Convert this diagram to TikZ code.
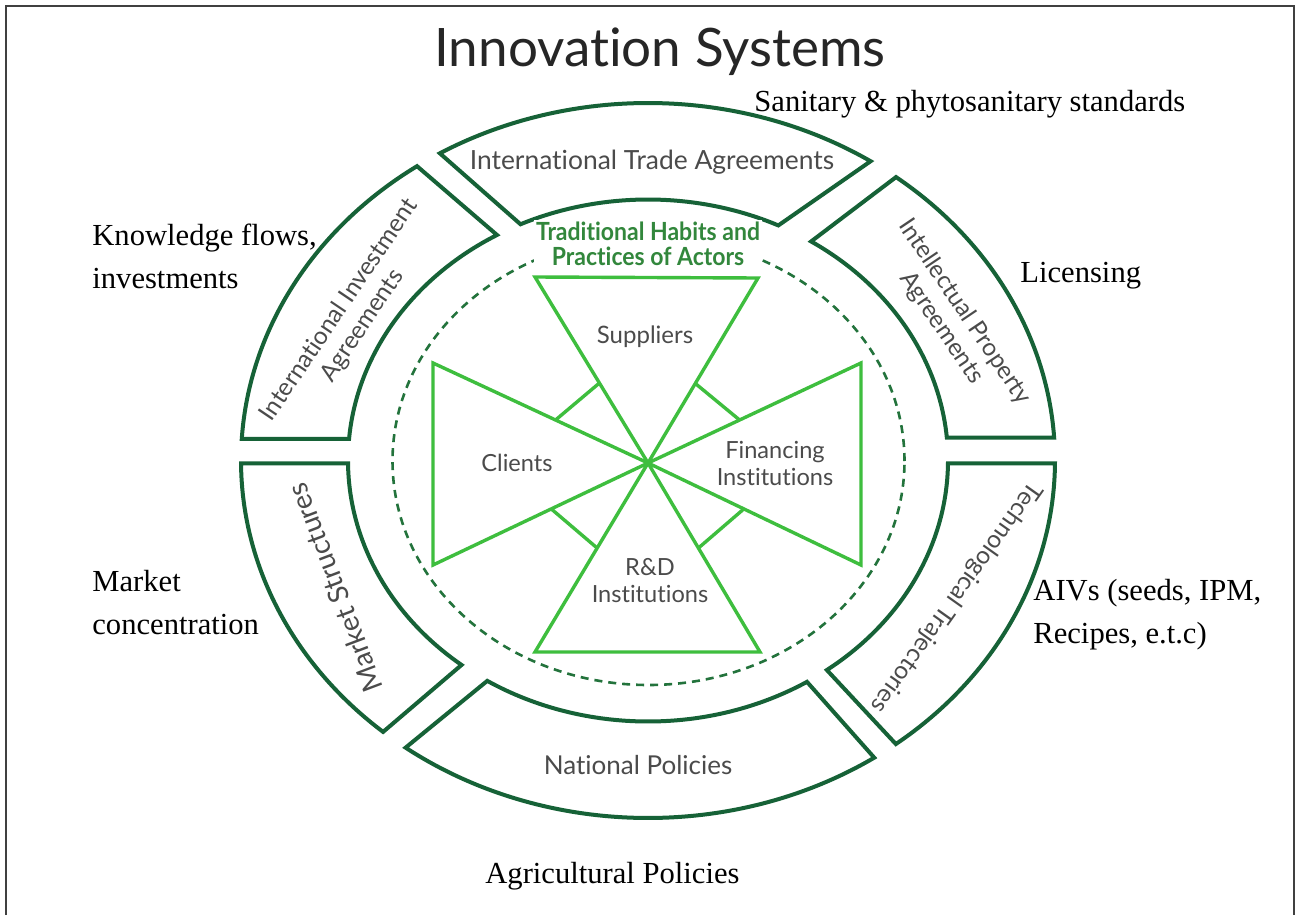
\documentclass[tikz,border=0pt]{standalone}
\usepackage{fontspec}
\usepackage{graphicx}
\setmainfont{Liberation Serif}
\newfontfamily\diagfont[Ligatures=NoCommon]{Lato}
\usetikzlibrary{calc}
\definecolor{segc}{RGB}{22,98,55}
\definecolor{starc}{RGB}{62,190,62}
\definecolor{dashc}{RGB}{35,115,60}
\definecolor{tradc}{RGB}{50,135,60}
\definecolor{labc}{RGB}{75,75,75}
\begin{document}
\begin{tikzpicture}[x=0.5pt,y=0.5pt,
  seg/.style={draw=segc, line width=2pt, line join=miter, fill=white},
  star/.style={draw=starc, line width=1.7pt, line join=miter},
  lab/.style={font=\diagfont\fontsize{11.8}{13.5}\selectfont, text=labc, align=center, inner sep=0pt},
  note/.style={font=\fontsize{15.3}{21.5}\selectfont, text=black, align=left, inner sep=0pt},
]
\useasboundingbox (0,0) rectangle (1300,-915);
\fill[white] (0,0) rectangle (1300,-915);
\draw[line width=1pt, black!75] (6,-915) -- (6,-6) -- (1294,-6) -- (1294,-915);

\node[font=\diagfont\fontsize{26.5}{30}\selectfont, text=black!85, anchor=base, inner sep=0pt] (title) at (660,-67) {Innovation Systems};

\begin{scope}[shift={(648,-460.5)}]
  % International Trade Agreements
  \path[seg] (56.84:407 and 357.5) arc[start angle=56.84, end angle=120.76, x radius=407, y radius=357.5]
    -- (115.15:300 and 261) arc[start angle=115.15, end angle=64.25, x radius=300, y radius=261] -- cycle;
  % International Investment Agreements
  \path[seg] (124.58:407 and 357.5) arc[start angle=124.58, end angle=176.55, x radius=407, y radius=357.5]
    -- (175.27:300 and 261) arc[start angle=175.27, end angle=120.22, x radius=300, y radius=261] -- cycle;
  % Market Structures
  \path[seg] (180.45:407 and 357.5) arc[start angle=180.45, end angle=229.39, x radius=407, y radius=357.5]
    -- (231.57:300 and 261) arc[start angle=231.57, end angle=180.61, x radius=300, y radius=261] -- cycle;
  % National Policies
  \path[seg] (233.44:407 and 357.5) arc[start angle=233.44, end angle=303.77, x radius=407, y radius=357.5]
    -- (302.0:300 and 261) arc[start angle=302.0, end angle=237.6, x radius=300, y radius=261] -- cycle;
  % Technological Trajectories
  \path[seg] (307.52:407 and 357.5) arc[start angle=307.52, end angle=359.55, x radius=407, y radius=357.5]
    -- (359.39:300 and 261) arc[start angle=359.39, end angle=306.6, x radius=300, y radius=261] -- cycle;
  % Intellectual Property Agreements
  \path[seg] (3.69:407 and 357.5) arc[start angle=3.69, end angle=52.45, x radius=407, y radius=357.5]
    -- (57.06:300 and 261) arc[start angle=57.06, end angle=5.05, x radius=300, y radius=261] -- cycle;
  % dashed boundary
  \draw[dashc, line width=1.3pt, dash pattern=on 4pt off 3pt] (0.5,-0.5) ellipse [x radius=256, y radius=224];
\end{scope}

% segment labels
\node[lab, font=\diagfont\fontsize{13.2}{15}\selectfont] (tradel) at (652,-162) {International Trade Agreements};
\node[lab, font=\diagfont\fontsize{13}{15}\selectfont] (natl) at (638,-765) {National Policies};
\node[lab, font=\diagfont\fontsize{12.2}{14}\selectfont, rotate=56] (invl) at (351,-318) {International Investment\\Agreements};
\node[lab, font=\diagfont\fontsize{12.2}{14}\selectfont, rotate=-56] (ipl) at (953,-320) {Intellectual Property\\Agreements};
\node[lab, font=\diagfont\fontsize{14}{16}\selectfont, rotate=110.7] (mktl) at (335,-588) {Market Structures};
\node[lab, font=\diagfont\fontsize{12.3}{14}\selectfont, rotate=234.6] (techl) at (956,-597) {Technological Trajectories};

% star of actors
\coordinate (O) at (648,-463);
\coordinate (s1) at (535,-277);
\coordinate (s2) at (758,-278);
\coordinate (r1) at (535,-652);
\coordinate (r2) at (760,-652);
\coordinate (c1) at (433,-363);
\coordinate (c2) at (433,-565);
\coordinate (f1) at (861,-363);
\coordinate (f2) at (861,-565);
\draw[star] (O) -- (s1) -- (s2) -- cycle;
\draw[star] (O) -- (r1) -- (r2) -- cycle;
\draw[star] (O) -- (c1) -- (c2) -- cycle;
\draw[star] (O) -- (f1) -- (f2) -- cycle;
\draw[star] ($(O)!0.43!(s1)$) -- ($(O)!0.43!(c1)$);
\draw[star] ($(O)!0.43!(s2)$) -- ($(O)!0.43!(f1)$);
\draw[star] ($(O)!0.45!(c2)$) -- ($(O)!0.45!(r1)$);
\draw[star] ($(O)!0.45!(f2)$) -- ($(O)!0.45!(r2)$);

\node[lab, font=\diagfont\fontsize{12}{13.5}\selectfont] (sup) at (645,-337) {Suppliers};
\node[lab] (cli) at (517,-463) {Clients};
\node[lab] (fin) at (775,-463) {Financing\\Institutions};
\node[lab] (rnd) at (650,-581) {R\&D\\Institutions};

\node[font=\diagfont\bfseries\fontsize{12.5}{12.5}\selectfont, text=tradc, align=center, fill=white, inner sep=1pt] (trad) at (648,-244)
  {\scalebox{0.92}[1]{Traditional Habits and}\\\scalebox{0.92}[1]{Practices of Actors}};

% annotations
\node[note, anchor=base west] (sps) at (754,-112) {Sanitary \& phytosanitary standards};
\node[note, anchor=north west] (kfl) at (92,-224) {Knowledge flows,\\investments};
\node[note, anchor=base west] (lic) at (1020,-282) {Licensing};
\node[note, anchor=north west] (mcon) at (92,-570) {Market\\concentration};
\node[note, anchor=north west] (aiv) at (1033,-579) {AIVs (seeds, IPM,\\Recipes, e.t.c)};
\node[note, anchor=base west] (agp) at (485,-883) {Agricultural Policies};
\end{tikzpicture}
\end{document}
